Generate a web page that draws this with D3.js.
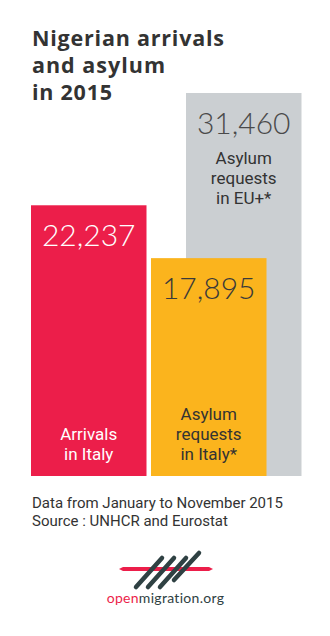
<!DOCTYPE html>
<html>
<head>
<meta charset="utf-8">
<script src="https://d3js.org/d3.v7.min.js"></script>
<style>
  html, body { margin: 0; padding: 0; background: #fff; }
  svg { display: block; }
</style>
</head>
<body>
<script>
// ---- data ----
const categories = ["Arrivals in Italy", "Asylum requests in Italy*", "Asylum requests in EU+*"];
const values = [22237, 17895, 31460];
const valueLabels = ["22,237", "17,895", "31,460"];
const labelLines = [["Arrivals", "in Italy"], ["Asylum", "requests", "in Italy*"], ["Asylum", "requests", "in EU+*"]];
const titleLines = ["Nigerian arrivals", "and asylum", "in 2015"];
const footerLines = ["Data from January to November 2015", "Source : UNHCR and Eurostat"];

// ---- layout ----
const W = 330, H = 636;
const baseY = 476, topY = 93;
const barW = 115.5;
const barX = { 0: 31, 1: 151, 2: 186 };
const fills = ["#ec1e4a", "#fbb41d", "#cbcfd2"];
const numColors = ["#ffffff", "#3a3a3a", "#4a4a4a"];
const txtColors = ["#ffffff", "#333333", "#333333"];
const titleWidths = [192, 133, 80];

const svg = d3.select("body").append("svg").attr("width", W).attr("height", H);

const y = d3.scaleLinear().domain([0, d3.max(values)]).range([baseY, topY]);

// title
svg.append("g").selectAll("text").data(titleLines).join("text")
  .attr("x", 32).attr("y", (d, i) => 46 + i * 27)
  .attr("font-family", "'Open Sans', Lato, sans-serif")
  .attr("font-weight", 700).attr("font-size", 21.5)
  .attr("textLength", (d, i) => titleWidths[i]).attr("lengthAdjust", "spacing")
  .attr("fill", "#333")
  .text(d => d);

// bars: draw order red, gray, yellow
const order = [0, 2, 1];
const bars = svg.append("g");
order.forEach(i => {
  const x0 = barX[i];
  const top = y(values[i]);
  const g = bars.append("g");
  g.append("rect").attr("x", x0).attr("y", top).attr("width", barW)
    .attr("height", baseY - top).attr("fill", fills[i]);
  g.append("text").attr("x", x0 + barW / 2).attr("y", top + 41)
    .attr("text-anchor", "middle")
    .attr("font-family", "Lato, sans-serif").attr("font-weight", 300)
    .attr("font-size", 30).attr("fill", numColors[i])
    .text(valueLabels[i]);
  const lines = labelLines[i];
  lines.forEach((l, j) => {
    let yy;
    if (i === 2) yy = top + 71 + j * 20;
    else yy = baseY - 16 - (lines.length - 1 - j) * 20;
    g.append("text").attr("x", x0 + barW / 2).attr("y", yy)
      .attr("text-anchor", "middle")
      .attr("font-family", "Roboto, sans-serif").attr("font-size", 17)
      .attr("fill", txtColors[i]).text(l);
  });
});

// footer
svg.append("g").selectAll("text").data(footerLines).join("text")
  .attr("x", 32).attr("y", (d, i) => 508 + i * 18)
  .attr("font-family", "Roboto, sans-serif").attr("font-size", 15)
  .attr("fill", "#333").text(d => d);

// logo
const logo = svg.append("g");
logo.append("path")
  .attr("d", "M119,569 L123,567 L209,567 L213,569 L209,571 L123,571 Z")
  .attr("fill", "#ec1e4a");
const strokes = [[136,587,162,558],[148,587,174,558],[160,587,186,558],[174,580,199,553]];
strokes.forEach(s => {
  logo.append("line").attr("x1", s[0]).attr("y1", s[1]).attr("x2", s[2]).attr("y2", s[3])
    .attr("stroke", "#2f4143").attr("stroke-width", 4.5).attr("stroke-linecap", "round");
});
const lt = logo.append("text").attr("x", 165.5).attr("y", 603).attr("text-anchor", "middle")
  .attr("font-family", "Lato, sans-serif").attr("font-size", 14).attr("font-weight", 400)
  .attr("letter-spacing", 0.3);
lt.append("tspan").attr("fill", "#ec1e4a").text("open");
lt.append("tspan").attr("fill", "#2f4143").text("migration.org");
</script>
</body>
</html>
